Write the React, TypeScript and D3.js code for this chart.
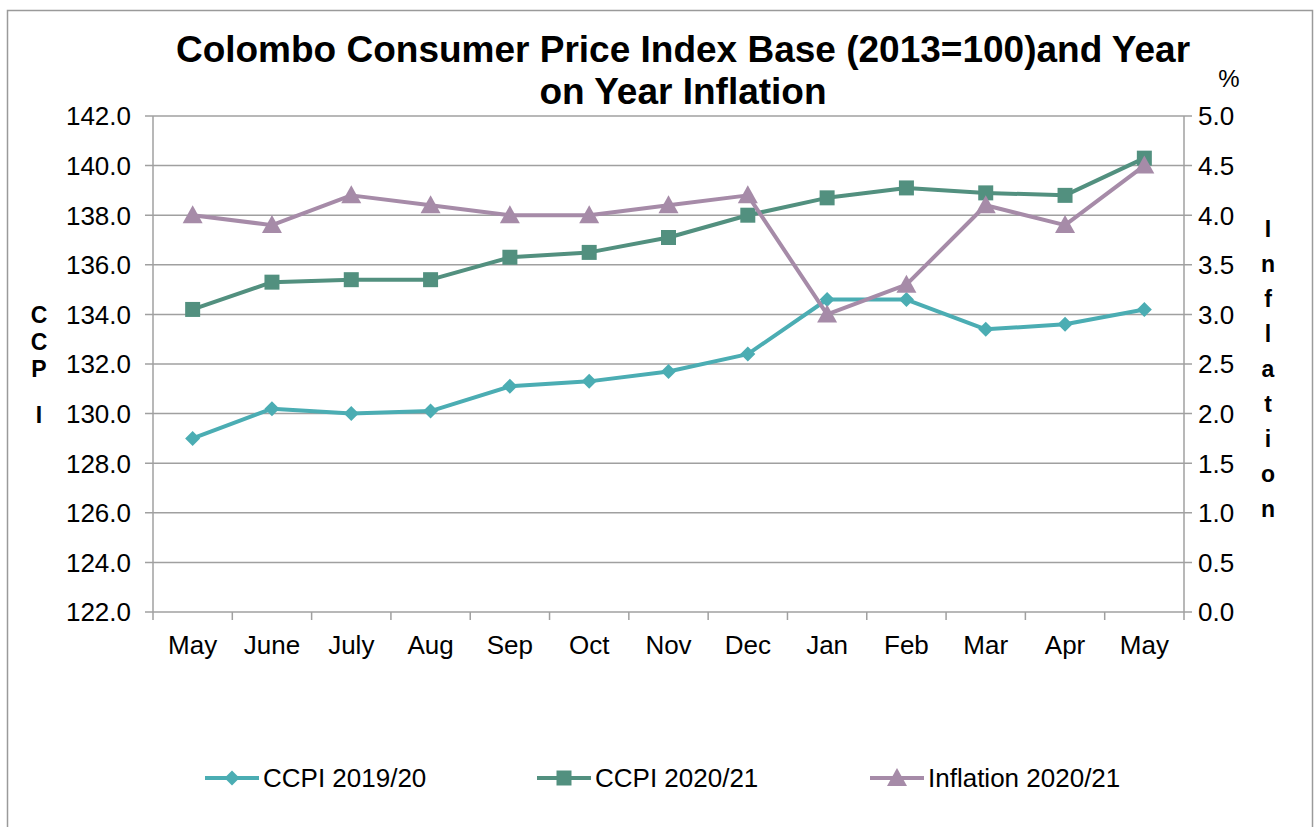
import React from 'react';
import * as d3 from 'd3';

const months = ['May', 'June', 'July', 'Aug', 'Sep', 'Oct', 'Nov', 'Dec', 'Jan', 'Feb', 'Mar', 'Apr', 'May'];
const ccpi1920 = [129.0, 130.2, 130.0, 130.1, 131.1, 131.3, 131.7, 132.4, 134.6, 134.6, 133.4, 133.6, 134.2];
const ccpi2021 = [134.2, 135.3, 135.4, 135.4, 136.3, 136.5, 137.1, 138.0, 138.7, 139.1, 138.9, 138.8, 140.3];
const inflation2021 = [4.0, 3.9, 4.2, 4.1, 4.0, 4.0, 4.1, 4.2, 3.0, 3.3, 4.1, 3.9, 4.5];
const leftTicks = [122, 124, 126, 128, 130, 132, 134, 136, 138, 140, 142];
const rightTicks = [0, 0.5, 1, 1.5, 2, 2.5, 3, 3.5, 4, 4.5, 5];

const W = 1314;
const H = 827;
const plot = { left: 153, right: 1184, top: 116, bottom: 612 };
const font = '"Liberation Sans", Arial, sans-serif';
const gridColor = '#A0A0A0';

const colors = { c1: '#4BADB3', c2: '#52907F', inf: '#A68BA8' };

function marker(type: string, cx: number, cy: number) {
  const p = d3.path();
  if (type === 'diamond') {
    const r = 7.5;
    p.moveTo(cx, cy - r); p.lineTo(cx + r, cy); p.lineTo(cx, cy + r); p.lineTo(cx - r, cy); p.closePath();
  } else if (type === 'square') {
    const r = 7.5;
    p.rect(cx - r, cy - r, 2 * r, 2 * r);
  } else {
    const w = 10, h = 10;
    p.moveTo(cx, cy - h); p.lineTo(cx + w, cy + h * 0.8); p.lineTo(cx - w, cy + h * 0.8); p.closePath();
  }
  return p.toString();
}

export default function App() {
  const x = d3.scaleBand<number>().domain(d3.range(months.length)).range([plot.left, plot.right]);
  const xc = (i: number) => (x(i) as number) + x.bandwidth() / 2;
  const yL = d3.scaleLinear().domain([122, 142]).range([plot.bottom, plot.top]);
  const yR = d3.scaleLinear().domain([0, 5]).range([plot.bottom, plot.top]);

  const series = [
    { name: 'CCPI 2019/20', values: ccpi1920, y: yL, color: colors.c1, type: 'diamond' },
    { name: 'CCPI 2020/21', values: ccpi2021, y: yL, color: colors.c2, type: 'square' },
    { name: 'Inflation 2020/21', values: inflation2021, y: yR, color: colors.inf, type: 'triangle' },
  ];

  const legendX = [205, 537, 870];
  const legendY = 778;
  const ccpiLetters = ['C', 'C', 'P', 'I'];
  const ccpiLetterY = [315, 342, 369, 415];
  const infLetters = ['I', 'n', 'f', 'l', 'a', 't', 'i', 'o', 'n'];

  const boundaries = d3.range(months.length + 1).map((i) => plot.left + i * x.step());

  return (
    <svg width={W} height={H} style={{ position: 'absolute', left: 0, top: 0, background: '#fff' }} fontFamily={font}>
      <rect x={7.5} y={10.5} width={1305} height={840} fill="#fff" stroke="#9a9a9a" strokeWidth={1.5} />

      <text x={683} y={62} textAnchor="middle" fontSize={37} fontWeight="bold">
        Colombo Consumer Price Index Base (2013=100)and Year
      </text>
      <text x={683} y={104} textAnchor="middle" fontSize={37} fontWeight="bold">
        on Year Inflation
      </text>

      {/* gridlines */}
      {leftTicks.map((t) => (
        <line key={'g' + t} x1={plot.left - 8} x2={plot.right + 8} y1={yL(t)} y2={yL(t)} stroke={gridColor} strokeWidth={1.5} />
      ))}
      <line x1={plot.left} x2={plot.left} y1={plot.top} y2={plot.bottom} stroke={gridColor} strokeWidth={1.5} />
      <line x1={plot.right} x2={plot.right} y1={plot.top} y2={plot.bottom} stroke={gridColor} strokeWidth={1.5} />
      {boundaries.map((bx, i) => (
        <line key={'xt' + i} x1={bx} x2={bx} y1={plot.bottom} y2={plot.bottom + 8} stroke={gridColor} strokeWidth={1.5} />
      ))}

      {/* tick labels */}
      {leftTicks.map((t) => (
        <text key={'l' + t} x={131} y={yL(t)} dy="0.36em" textAnchor="end" fontSize={26}>
          {t.toFixed(1)}
        </text>
      ))}
      {rightTicks.map((t) => (
        <text key={'r' + t} x={1198} y={yR(t)} dy="0.36em" textAnchor="start" fontSize={26}>
          {t.toFixed(1)}
        </text>
      ))}
      {months.map((m, i) => (
        <text key={'m' + i} x={xc(i)} y={645} dy="0.36em" textAnchor="middle" fontSize={26}>
          {m}
        </text>
      ))}

      <text x={1229} y={78} dy="0.36em" textAnchor="middle" fontSize={24}>%</text>
      {ccpiLetters.map((c, i) => (
        <text key={'c' + i} x={39} y={ccpiLetterY[i]} dy="0.36em" textAnchor="middle" fontSize={23} fontWeight="bold">{c}</text>
      ))}
      {infLetters.map((c, i) => (
        <text key={'i' + i} x={1268} y={229 + i * 35} dy="0.36em" textAnchor="middle" fontSize={23} fontWeight="bold">{c}</text>
      ))}

      {/* series */}
      {series.map((s) => {
        const line = d3.line<number>().x((_, i) => xc(i)).y((v) => s.y(v));
        return (
          <g key={s.name}>
            <path d={line(s.values) as string} fill="none" stroke={s.color} strokeWidth={4} strokeLinejoin="round" />
            {s.values.map((v, i) => (
              <path key={i} d={marker(s.type, xc(i), s.y(v))} fill={s.color} />
            ))}
          </g>
        );
      })}

      {/* legend */}
      {series.map((s, i) => (
        <g key={'lg' + s.name}>
          <line x1={legendX[i]} x2={legendX[i] + 54} y1={legendY} y2={legendY} stroke={s.color} strokeWidth={4} />
          <path d={marker(s.type, legendX[i] + 27, legendY)} fill={s.color} />
          <text x={legendX[i] + 58} y={legendY} dy="0.36em" fontSize={26}>{s.name}</text>
        </g>
      ))}
    </svg>
  );
}
